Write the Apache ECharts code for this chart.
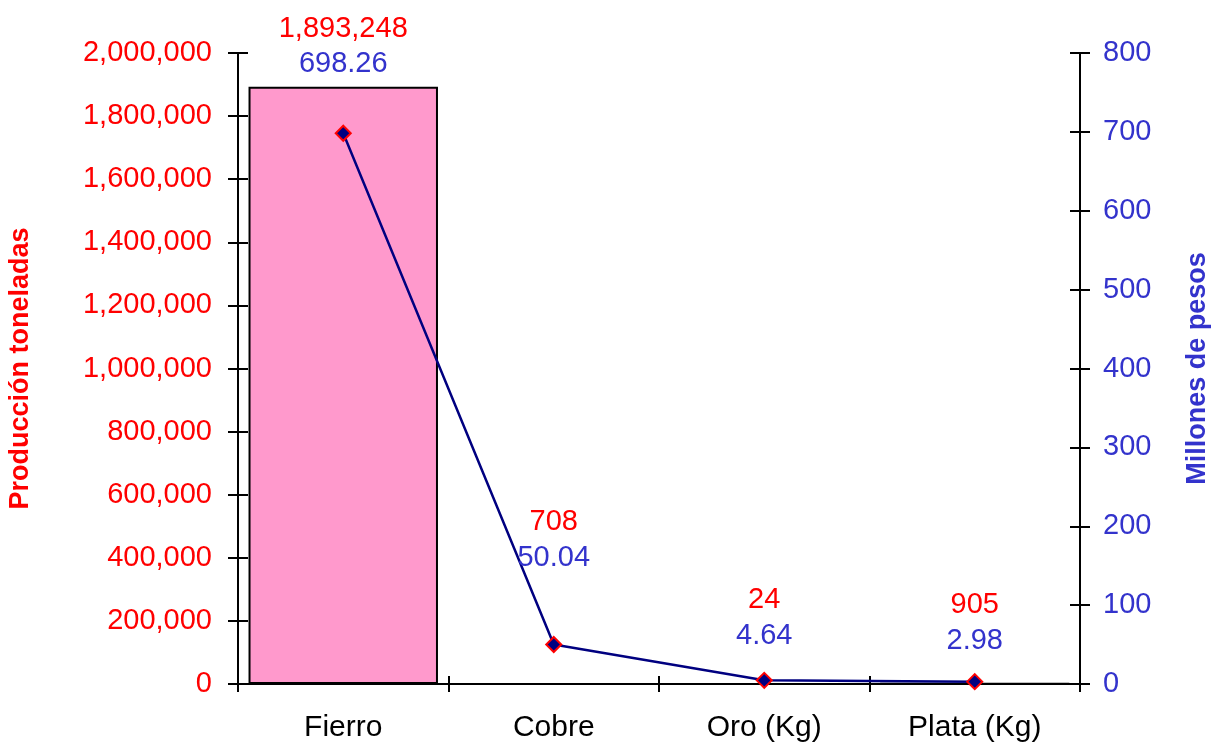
<!DOCTYPE html>
<html>
<head>
<meta charset="utf-8">
<script src="https://cdn.jsdelivr.net/npm/echarts@6/dist/echarts.min.js"></script>
<style>html,body{margin:0;padding:0;background:#fff}#c{width:1211px;height:747px}</style>
</head>
<body>
<div id="c"></div>
<script>
const categories = ['Fierro', 'Cobre', 'Oro (Kg)', 'Plata (Kg)'];
const produccion = [1893248, 708, 24, 905];
const millones = [698.26, 50.04, 4.64, 2.98];
const produccionLabels = ['1,893,248', '708', '24', '905'];
const millonesLabels = ['698.26', '50.04', '4.64', '2.98'];
const barLabelOffsets = [-43, -146, -68, -63];
const lineLabelOffsets = [-69, -87, -44, -41];

const FONT = '"Liberation Sans", Arial, sans-serif';
const RED = '#FF0000';
const BLUE = '#3333CC';

const chart = echarts.init(document.getElementById('c'), null, {renderer: 'canvas'});
const fmt = v => v.toLocaleString('en-US');

const option = {
  animation: false,
  backgroundColor: '#ffffff',
  grid: {left: 238, right: 131, top: 53, bottom: 63, containLabel: false, outerBoundsMode: 'none'},
  xAxis: [{
    type: 'category', data: categories, boundaryGap: true,
    axisLine: {lineStyle: {color: '#000', width: 2}},
    axisTick: {show: true, inside: false, length: 8, lineStyle: {color: '#000', width: 2}},
    axisLabel: {color: '#000', fontSize: 30, fontFamily: FONT, margin: 29}
  }, {
    type: 'category', data: categories, boundaryGap: true, position: 'bottom', gridIndex: 0,
    axisLine: {show: false},
    axisTick: {show: true, inside: true, length: 8, lineStyle: {color: '#000', width: 2}},
    axisLabel: {show: false}
  }],
  yAxis: [{
    type: 'value', min: 0, max: 2000000, interval: 200000, position: 'left',
    name: 'Producción toneladas', nameLocation: 'middle', nameGap: 204, nameRotate: 90,
    nameTextStyle: {color: RED, fontSize: 27, fontWeight: 'bold', fontFamily: FONT},
    axisLine: {show: true, lineStyle: {color: '#000', width: 2}},
    axisTick: {show: true, inside: false, length: 10, lineStyle: {color: '#000', width: 2}},
    axisLabel: {color: RED, fontSize: 29, fontFamily: FONT, margin: 26, formatter: fmt},
    splitLine: {show: false}
  }, {
    type: 'value', min: 0, max: 800, interval: 100, position: 'right',
    name: 'Millones de pesos', nameLocation: 'middle', nameGap: 104, nameRotate: 90,
    nameTextStyle: {color: BLUE, fontSize: 27, fontWeight: 'bold', fontFamily: FONT},
    axisLine: {show: true, lineStyle: {color: '#000', width: 2}},
    axisTick: {show: true, inside: false, length: 10, lineStyle: {color: '#000', width: 2}},
    axisLabel: {color: BLUE, fontSize: 29, fontFamily: FONT, margin: 23},
    splitLine: {show: false}
  }, {
    type: 'value', min: 0, max: 2000000, interval: 200000, position: 'left',
    axisLine: {show: false},
    axisTick: {show: true, inside: true, length: 10, lineStyle: {color: '#000', width: 2}},
    axisLabel: {show: false}, splitLine: {show: false}
  }, {
    type: 'value', min: 0, max: 800, interval: 100, position: 'right',
    axisLine: {show: false},
    axisTick: {show: true, inside: true, length: 10, lineStyle: {color: '#000', width: 2}},
    axisLabel: {show: false}, splitLine: {show: false}
  }],
  series: [{
    type: 'bar', xAxisIndex: 0, yAxisIndex: 0, barWidth: '90%',
    itemStyle: {color: '#FF99CC', borderColor: '#000', borderWidth: 2},
    data: produccion.map((v, i) => ({
      value: v,
      label: {show: true, position: 'top', distance: 0, offset: [0, barLabelOffsets[i]],
        formatter: () => produccionLabels[i], color: RED, fontSize: 29, fontFamily: FONT}
    })),
    z: 2
  }, {
    type: 'line', xAxisIndex: 0, yAxisIndex: 1,
    symbol: 'diamond', symbolSize: 15,
    lineStyle: {color: '#000080', width: 2.5},
    itemStyle: {color: '#000080', borderColor: RED, borderWidth: 2},
    data: millones.map((v, i) => ({
      value: v,
      label: {show: true, position: 'inside', offset: [0, lineLabelOffsets[i]],
        formatter: () => millonesLabels[i], color: BLUE, fontSize: 29, fontFamily: FONT}
    })),
    z: 5
  }]
};
chart.setOption(option);
</script>
</body>
</html>
